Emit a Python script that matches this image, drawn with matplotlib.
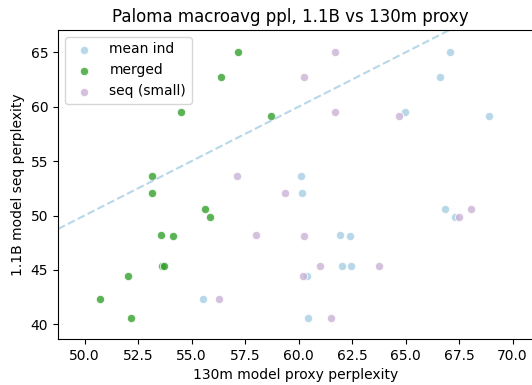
import numpy as np
import matplotlib
matplotlib.use("Agg")
import matplotlib.pyplot as plt

# ----------------------------------------------------
# DATA
# ----------------------------------------------------
# y = 1.1B model seq perplexity, shared across series
seq_ppl = [65.05, 62.76, 59.54, 59.12, 53.63, 52.07, 50.63, 49.83,
           48.18, 48.12, 45.39, 45.39, 44.41, 42.30, 40.61]

mean_ind_x = [67.05, 66.59, 64.99, 68.90, 60.12, 60.17, 66.85, 67.30,
              61.95, 62.42, 62.01, 62.47, 60.37, 55.53, 60.43]
merged_x = [57.16, 56.39, 54.51, 58.71, 53.13, 53.14, 55.64, 55.86,
            53.56, 54.11, 53.61, 53.69, 52.01, 50.73, 52.17]
seq_small_x = [61.69, 60.26, 61.69, 64.71, 57.13, 59.36, 68.06, 67.49,
               58.03, 60.25, 61.02, 63.77, 60.20, 56.26, 61.52]

series = [
    ("mean ind", mean_ind_x, "#a6cee3"),
    ("merged", merged_x, "#33a02c"),
    ("seq (small)", seq_small_x, "#cab2d6"),
]

xlim = (48.76, 70.95)
ylim = (38.65, 67.05)

# ----------------------------------------------------
# PLOT
# ----------------------------------------------------
fig = plt.figure(figsize=(5.32, 3.85), dpi=100)
W, H = 532, 385
ax = fig.add_axes([58 / W, 1 - 339 / H, 475 / W, 309 / H])

for name, xs, col in series:
    ax.scatter(xs, seq_ppl, s=36, color=col, alpha=0.8,
               edgecolor="white", linewidth=0.75, label=name)

lo = min(xlim[0], ylim[0])
hi = max(xlim[1], ylim[1])
ax.plot([lo, hi], [lo, hi], ls="--", color="#a6cee3", alpha=0.8, lw=1.5)

ax.set_xlim(*xlim)
ax.set_ylim(*ylim)
ax.set_xticks(np.arange(50, 70.1, 2.5))
ax.set_yticks(np.arange(40, 66, 5))

ax.set_title("Paloma macroavg ppl, 1.1B vs 130m proxy", fontsize=12, x=0.489)
ax.set_xlabel("130m model proxy perplexity", fontsize=10)
ax.set_ylabel("1.1B model seq perplexity", fontsize=10)
ax.legend(loc="upper left", fontsize=10)

fig.savefig("out.png", dpi=100)
plt.close(fig)
